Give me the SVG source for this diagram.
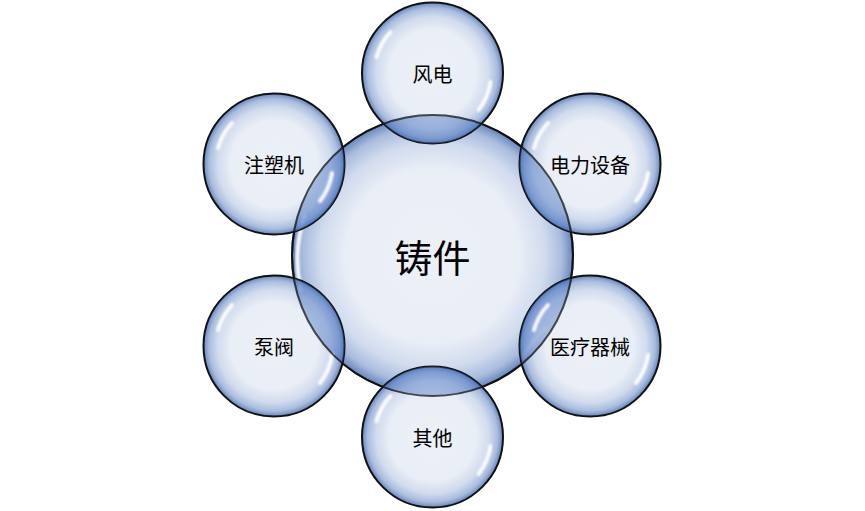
<svg xmlns="http://www.w3.org/2000/svg" width="865" height="511" viewBox="0 0 865 511">
<defs>
<radialGradient id="bub" cx="50%" cy="50%" r="50%">
<stop offset="0%" stop-color="#EAEEF6" stop-opacity="0.9"/>
<stop offset="62%" stop-color="#E7ECF5" stop-opacity="0.88"/>
<stop offset="80%" stop-color="#C6D3EA" stop-opacity="0.8"/>
<stop offset="92%" stop-color="#8EA7D4" stop-opacity="0.75"/>
<stop offset="100%" stop-color="#4A6DAE" stop-opacity="0.85"/>
</radialGradient>
<clipPath id="mainClip"><circle cx="432.5" cy="255.5" r="140.5"/></clipPath>
<filter id="blur" x="-20%" y="-20%" width="140%" height="140%"><feGaussianBlur stdDeviation="1.1"/></filter>
</defs>
<style>
.b{fill:url(#bub);stroke:#111;stroke-width:2}
.l{fill:#4E78C6;fill-opacity:0.36;clip-path:url(#mainClip)}
.o{fill:none;stroke:#111;stroke-width:2;stroke-opacity:0.7}
.h{fill:none;stroke:#fff;stroke-width:4;stroke-linecap:round;opacity:0.95;filter:url(#blur)}
.t{font-family:"Noto Sans CJK SC","Noto Sans",sans-serif;fill:#000;text-anchor:middle;dominant-baseline:central}
.s{font-size:20px}
.m{font-size:38px}
</style>
<rect width="865" height="511" fill="#fff"/>
<g id="center">
<circle class="b" cx="432.5" cy="255.5" r="140.5"/>
<path class="h" d="M301,290 A134,134 0 0 1 305,215"/>
<path class="h" d="M522,358 A134,134 0 0 1 545,328" opacity="0.6"/>
<text class="t m" x="432.5" y="255">铸件</text>
</g>
<g id="n-fengdian">
<circle class="b" cx="432.5" cy="73" r="70.5"/>
<circle class="l" cx="432.5" cy="73" r="70.5"/>
<path class="h" d="M376.5,57 a59,59 0 0 1 14,-25"/>
<path class="h" d="M490.5,82 a59,59 0 0 1 -12,28"/>
<text class="t s" x="432.5" y="73">风电</text>
</g>
<g id="n-dianli">
<circle class="b" cx="590" cy="164" r="70.5"/>
<circle class="l" cx="590" cy="164" r="70.5"/>
<path class="h" d="M534,148 a59,59 0 0 1 14,-25"/>
<path class="h" d="M648,173 a59,59 0 0 1 -12,28"/>
<text class="t s" x="590" y="164">电力设备</text>
</g>
<g id="n-yiliao">
<circle class="b" cx="590" cy="346" r="70.5"/>
<circle class="l" cx="590" cy="346" r="70.5"/>
<path class="h" d="M534,330 a59,59 0 0 1 14,-25"/>
<path class="h" d="M648,355 a59,59 0 0 1 -12,28"/>
<text class="t s" x="590" y="346">医疗器械</text>
</g>
<g id="n-qita">
<circle class="b" cx="432.5" cy="437" r="70.5"/>
<circle class="l" cx="432.5" cy="437" r="70.5"/>
<path class="h" d="M376.5,421 a59,59 0 0 1 14,-25"/>
<path class="h" d="M490.5,446 a59,59 0 0 1 -12,28"/>
<text class="t s" x="432.5" y="437">其他</text>
</g>
<g id="n-bengfa">
<circle class="b" cx="274" cy="346" r="70.5"/>
<circle class="l" cx="274" cy="346" r="70.5"/>
<path class="h" d="M218,330 a59,59 0 0 1 14,-25"/>
<path class="h" d="M332,355 a59,59 0 0 1 -12,28"/>
<text class="t s" x="274" y="346">泵阀</text>
</g>
<g id="n-zhusu">
<circle class="b" cx="274" cy="164" r="70.5"/>
<circle class="l" cx="274" cy="164" r="70.5"/>
<path class="h" d="M218,148 a59,59 0 0 1 14,-25"/>
<path class="h" d="M332,173 a59,59 0 0 1 -12,28"/>
<text class="t s" x="274" y="164">注塑机</text>
</g>
<circle class="o" cx="432.5" cy="255.5" r="140.5"/>
<g id="connectors"/>
</svg>
